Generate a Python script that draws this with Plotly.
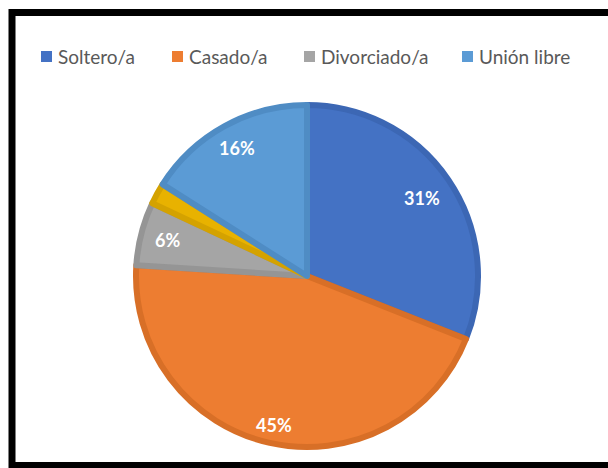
import math
import plotly.graph_objects as go

# Estado civil: share of respondents (%)
categories = ["Soltero/a", "Casado/a", "Divorciado/a", "Otro", "Unión libre"]
values = [31, 45, 6, 2, 16]
label_texts = ["31%", "45%", "6%", "", "16%"]
legend_items = ["Soltero/a", "Casado/a", "Divorciado/a", "Unión libre"]

fill_colors = ["#4472C4", "#ED7D31", "#A5A5A5", "#E8B200", "#5B9BD5"]
edge_colors = ["#3C67B4", "#D86F27", "#959595", "#D4A200", "#4F8CC4"]

W, H = 608, 468
cx, cy, R = 307, 276, 171          # pie centre and radius in pixels
label_frac = [0.80, 0.88, 0.83, 0.84, 0.84]

fig = go.Figure()
fig.add_trace(go.Pie(
    labels=categories,
    values=values,
    sort=False,
    direction="clockwise",
    rotation=0,
    textinfo="none",
    hoverinfo="label+percent",
    showlegend=False,
    marker=dict(colors=fill_colors, line=dict(color=edge_colors, width=6)),
    domain=dict(x=[(cx - R) / W, (cx + R) / W],
                y=[1 - (cy + R) / H, 1 - (cy - R) / H]),
))

# Percentage labels placed at each slice's mid-angle
annotations = []
total = sum(values)
cum = 0
for val, txt, frac in zip(values, label_texts, label_frac):
    mid = (cum + val / 2) / total * 2 * math.pi
    cum += val
    if not txt:
        continue
    px = cx + frac * (R + 3) * math.sin(mid)
    py = cy - frac * (R + 3) * math.cos(mid)
    annotations.append(dict(
        x=px / W, y=1 - py / H, xref="paper", yref="paper",
        text=f"<b>{txt}</b>", showarrow=False,
        font=dict(family="Lato", size=18, color="white"),
        xanchor="center", yanchor="middle",
    ))

# Legend row along the top
shapes = []
legend_x = [41, 172, 304, 462]
legend_y = 56
for name, x0 in zip(legend_items, legend_x):
    col = fill_colors[categories.index(name)]
    shapes.append(dict(
        type="rect", xref="paper", yref="paper",
        x0=x0 / W, x1=(x0 + 11) / W,
        y0=1 - (legend_y + 6) / H, y1=1 - (legend_y - 5) / H,
        fillcolor=col, line=dict(width=0),
    ))
    annotations.append(dict(
        x=(x0 + 15) / W, y=1 - legend_y / H, xref="paper", yref="paper",
        text=name, showarrow=False, xanchor="left", yanchor="middle",
        font=dict(family="Lato", size=19, color="#595959"),
    ))

# Chart frame
shapes.append(dict(
    type="rect", xref="paper", yref="paper",
    x0=12 / W, x1=620 / W, y0=1 - 465.5 / H, y1=1 - 12.5 / H,
    line=dict(color="black", width=7), fillcolor="rgba(0,0,0,0)",
))

fig.update_layout(
    width=W, height=H,
    margin=dict(l=0, r=0, t=0, b=0),
    paper_bgcolor="white",
    plot_bgcolor="white",
    annotations=annotations,
    shapes=shapes,
)

fig.write_html("out.html")
